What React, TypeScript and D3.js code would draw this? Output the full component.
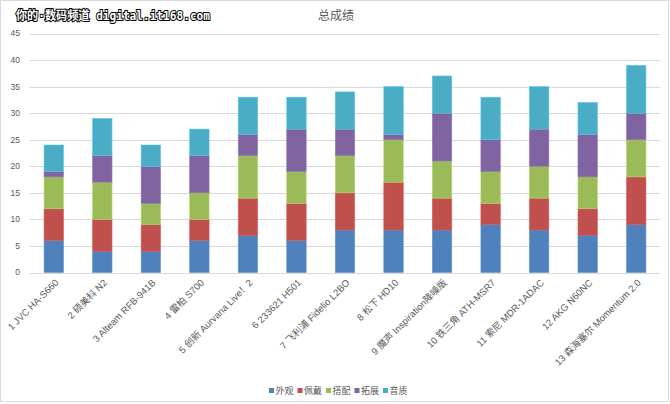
import * as d3 from "d3";

const categories = [
  "1 JVC HA-S660",
  "2 硕美科 N2",
  "3 Alteam RFB-941B",
  "4 雷柏 S700",
  "5 创新 Aurvana Live！2",
  "6 233621 H501",
  "7 飞利浦 Fidelio L2BO",
  "8 松下 HD10",
  "9 魔声 Inspiration降噪版",
  "10 铁三角 ATH-MSR7",
  "11 索尼 MDR-1ADAC",
  "12 AKG N60NC",
  "13 森海塞尔 Momentum  2.0",
];

const seriesNames = ["外观", "佩戴", "搭配", "拓展", "音质"];
const seriesColors = ["#4f81bd", "#c0504d", "#9bbb59", "#8064a2", "#4bacc6"];

const appearance = [6, 4, 4, 6, 7, 6, 8, 8, 8, 9, 8, 7, 9];
const comfort = [6, 6, 5, 4, 7, 7, 7, 9, 6, 4, 6, 5, 9];
const matching = [6, 7, 4, 5, 8, 6, 7, 8, 7, 6, 6, 6, 7];
const expansion = [1, 5, 7, 7, 4, 8, 5, 1, 9, 6, 7, 8, 5];
const sound = [5, 7, 4, 5, 7, 6, 7, 9, 7, 8, 8, 6, 9];

const yTicks = [0, 5, 10, 15, 20, 25, 30, 35, 40, 45];

const W = 670;
const H = 404;

export default function App() {
  const series = [appearance, comfort, matching, expansion, sound];
  const rows = categories.map((c, i) => {
    const r: Record<string, number | string> = { cat: c };
    seriesNames.forEach((s, k) => (r[s] = series[k][i]));
    return r;
  });
  const stacked = d3.stack<any>().keys(seriesNames)(rows);

  const x = d3
    .scaleBand()
    .domain(categories)
    .range([29.5, 660.5])
    .paddingInner(0.6)
    .paddingOuter(0.3);
  const y = d3.scaleLinear().domain([0, 45]).range([272.5, 33.5]);

  const legendX = d3
    .scalePoint()
    .domain(seriesNames)
    .range([269, 383]);

  const font = "'Liberation Sans', 'Noto Sans CJK SC', sans-serif";

  return (
    <svg
      width={W}
      height={H}
      style={{ position: "absolute", left: 0, top: 0, background: "#fff" }}
      fontFamily={font}
    >
      <rect x={0.5} y={0.5} width={668} height={401} fill="#fff" stroke="#d9d9d9" />

      {/* watermark */}
      <text
        x={16}
        y={19.5}
        fontSize={12}
        fontWeight="bold"
        fontFamily="'DejaVu Sans Mono', 'Noto Sans CJK SC', monospace"
        fill="#fff"
        stroke="#000"
        strokeWidth={2}
        paintOrder="stroke"
        textLength={194}
        lengthAdjust="spacingAndGlyphs"
      >
        你的·数码频道 digital.it168.com
      </text>

      <text x={336} y={19.5} fontSize={12} fill="#595959" textAnchor="middle">
        总成绩
      </text>

      {/* grid + y ticks */}
      {yTicks.map((t) => (
        <g key={t}>
          <line
            x1={29.5}
            x2={660.5}
            y1={Math.round(y(t)) + 0.5}
            y2={Math.round(y(t)) + 0.5}
            stroke="#d9d9d9"
            strokeWidth={1}
          />
          <text
            x={20}
            y={y(t)}
            dy="0.35em"
            fontSize={8.5}
            fill="#595959"
            textAnchor="end"
          >
            {t}
          </text>
        </g>
      ))}

      {/* bars */}
      {stacked.map((s, k) => (
        <g key={s.key} fill={seriesColors[k]}>
          {s.map((d, i) => (
            <rect
              key={i}
              x={x(categories[i])}
              width={x.bandwidth()}
              y={y(d[1])}
              height={y(d[0]) - y(d[1])}
              stroke={d3.color(seriesColors[k])!.brighter(0.4).toString()}
              strokeWidth={0.6}
            />
          ))}
        </g>
      ))}

      {/* x labels */}
      {categories.map((c) => {
        const cx = (x(c) ?? 0) + x.bandwidth() / 2;
        return (
          <text
            key={c}
            transform={`translate(${cx + 3},${281}) rotate(-45)`}
            fontSize={9.5}
            fill="#595959"
            textAnchor="end"
            dy="0.35em"
          >
            {c}
          </text>
        );
      })}

      {/* legend */}
      {seriesNames.map((s, k) => {
        const lx = legendX(s) ?? 0;
        return (
          <g key={s}>
            <rect x={lx} y={388} width={5} height={5} fill={seriesColors[k]} />
            <text x={lx + 6.5} y={390.5} dy="0.35em" fontSize={9} fill="#595959">
              {s}
            </text>
          </g>
        );
      })}
    </svg>
  );
}
